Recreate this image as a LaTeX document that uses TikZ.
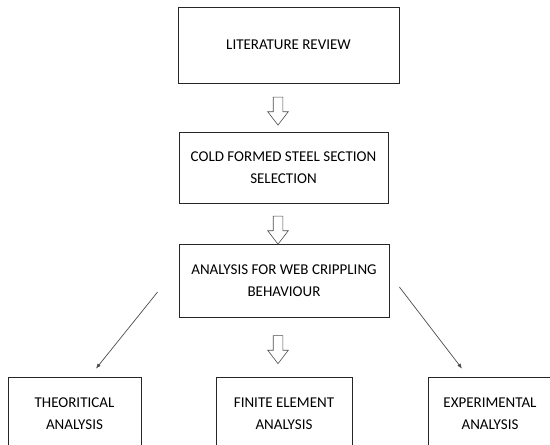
\documentclass[tikz,border=0pt]{standalone}
\usepackage{fontspec}
\setmainfont{Carlito}
\usetikzlibrary{calc,arrows.meta,shapes.arrows}

\begin{document}
\begin{tikzpicture}[x=1pt,y=-1pt,box/.style={draw=black!85,line width=0.8pt,fill=white,align=center,inner sep=2pt,text=black,font=\fontsize{15pt}{22pt}\selectfont},hollow/.style={single arrow,draw=black!70,line width=0.6pt,fill=white,rotate=-90,minimum height=28pt,inner xsep=0pt,inner ysep=4.5pt,single arrow head extend=5.5pt,single arrow tip angle=75,single arrow head indent=0pt},diag/.style={draw=black!70,line width=0.7pt,-{Latex[length=5pt,width=4pt]}}]
\clip (0,0) rectangle (550,445);
\node[box,minimum width=221pt,minimum height=76pt] (n0) at (288.5,45) {LITERATURE REVIEW};
\node[box,minimum width=209pt,minimum height=71pt] (n1) at (283.5,167.5) {COLD FORMED STEEL SECTION\\SELECTION};
\node[box,minimum width=210pt,minimum height=73pt] (n2) at (284,280.5) {ANALYSIS FOR WEB CRIPPLING\\BEHAVIOUR};
\node[box,minimum width=133pt,minimum height=74pt] (n3) at (74.5,414) {THEORITICAL\\ANALYSIS};
\node[box,minimum width=136pt,minimum height=74pt] (n4) at (284,414) {FINITE ELEMENT\\ANALYSIS};
\node[box,minimum width=124pt,minimum height=74pt] (n5) at (490,414) {EXPERIMENTAL\\ANALYSIS};
\node[hollow] (a0) at (278,108) {};
\node[hollow] (a1) at (278,227) {};
\node[hollow] (a2) at (278,346.5) {};
\draw[diag] ($(n2.west)+(-21,11.5)$) -- ($(n3.north)+(21.5,-8)$);
\draw[diag] ($(n2.east)+(10,6.5)$) -- ($(n5.north)+(-28,-8)$);
\end{tikzpicture}
\end{document}
